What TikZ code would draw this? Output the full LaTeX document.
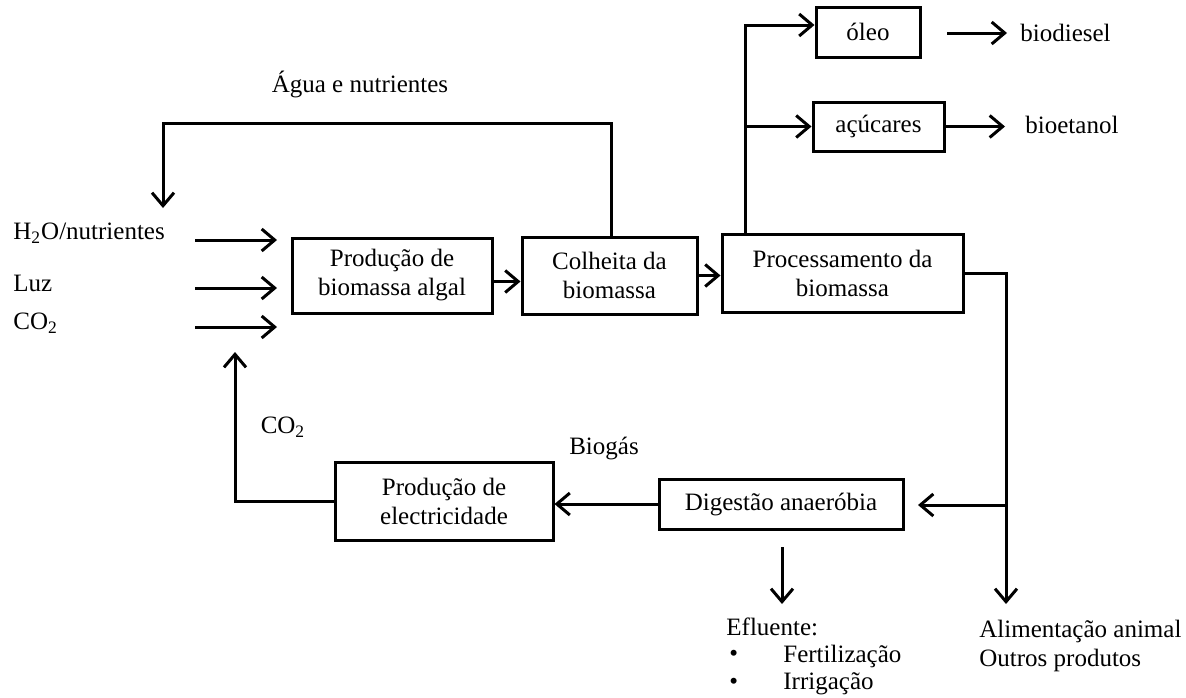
\documentclass[tikz,border=0pt]{standalone}
\usepackage{fontspec}
\setmainfont{Liberation Serif}
\usetikzlibrary{arrows.meta,calc}

\tikzset{
  caixa/.style={draw, line width=1.5pt, align=center, inner sep=0pt},
  rotulo/.style={inner sep=0pt, anchor=west, align=left},
  seta/.style={line width=1.5pt, -{Straight Barb[length=6.5pt,width=11pt,line width=1.5pt]}}
}

\begin{document}
\begin{tikzpicture}[x=0.5pt,y=-0.5pt,font=\fontsize{12.5}{14.5}\selectfont]
\useasboundingbox (0,0) rectangle (1186,697);

% caixas
\node[caixa, minimum width=100pt, minimum height=37.5pt] (prod) at (392,275.5) {Produção de\\biomassa algal};
\node[caixa, minimum width=87.5pt, minimum height=38.5pt] (colh) at (609.5,275.5) {Colheita da\\biomassa};
\node[caixa, minimum width=120.5pt, minimum height=39pt] (proc) at (842.5,273) {Processamento da\\biomassa};
\node[caixa, minimum width=52pt, minimum height=25pt] (oleo) at (868,32) {óleo};
\node[caixa, minimum width=65.5pt, minimum height=24.5pt] (acuc) at (878.5,126.5) {açúcares};
\node[caixa, minimum width=109pt, minimum height=39pt] (elec) at (444,501) {Produção de\\electricidade};
\node[caixa, minimum width=122pt, minimum height=25pt] (dig) at (781,504) {Digestão anaeróbia};

% textos
\node[rotulo] (h2o) at (13,233) {H\textsubscript{2}O/nutrientes};
\node[rotulo] (luz) at (13,283) {Luz};
\node[rotulo] (co2a) at (13,323) {CO\textsubscript{2}};
\node[inner sep=0pt] (agua) at (360,84) {Água e nutrientes};
\node[inner sep=0pt] (co2b) at (283,427) {CO\textsubscript{2}};
\node[inner sep=0pt] (biog) at (604,448) {Biogás};
\node[rotulo] (biod) at (1020,33) {biodiesel};
\node[rotulo] (bioe) at (1025,125) {bioetanol};
\node[rotulo] (eflu) at (726,627) {Efluente:};
\node[rotulo] (bal1) at (729,656) {\textbullet};
\node[rotulo] (bal2) at (729,684) {\textbullet};
\node[rotulo] (fert) at (783,656) {Fertilização};
\node[rotulo] (irri) at (783,684) {Irrigação};
\node[rotulo] (alim) at (979,646) {Alimentação animal\\Outros produtos};

% pontos livres
\coordinate (ent1) at (195,240);
\coordinate (ent2) at (195,288);
\coordinate (ent3) at (195,327);
\coordinate (fim1) at (277,240);
\coordinate (fim2) at (277,288);
\coordinate (fim3) at (277,327);
\coordinate (volta) at (163,123);
\coordinate (ret) at (163,208);
\coordinate (co2fim) at (235,352);
\coordinate (ramo) at ($(proc.north west)+(25,0)$);
\coordinate (oleoini) at (947,33);
\coordinate (oleofim) at (1007,33);
\coordinate (acucfim) at (1005,126.5);
\coordinate (juncao) at (1006,505);
\coordinate (saida) at (1006,604);
\coordinate (digin) at (918,505);
\coordinate (efini) at (782,547);
\coordinate (effim) at (782,604);

% setas
\draw[seta] (ent1) -- (fim1);
\draw[seta] (ent2) -- (fim2);
\draw[seta] (ent3) -- (fim3);
\draw[seta] ([yshift=-3pt]prod.east) -- ([yshift=-3pt]prod.east -| colh.west);
\draw[seta] (colh.east) -- (colh.east -| proc.west);
\draw[seta] ([xshift=1pt]colh.north) |- (volta) -- (ret);
\draw[seta] (ramo) |- ([yshift=3.5pt]oleo.west);
\draw[seta] (ramo |- acuc.west) -- (acuc.west);
\draw[seta] (oleoini) -- (oleofim);
\draw[seta] (acuc.east) -- (acucfim);
\draw[seta] (proc.east) -| (saida);
\draw[seta] (juncao) -- (digin);
\draw[seta] (dig.west) -- (dig.west -| elec.east);
\draw[seta] (elec.west) -| (co2fim);
\draw[seta] (efini) -- (effim);
\end{tikzpicture}
\end{document}
